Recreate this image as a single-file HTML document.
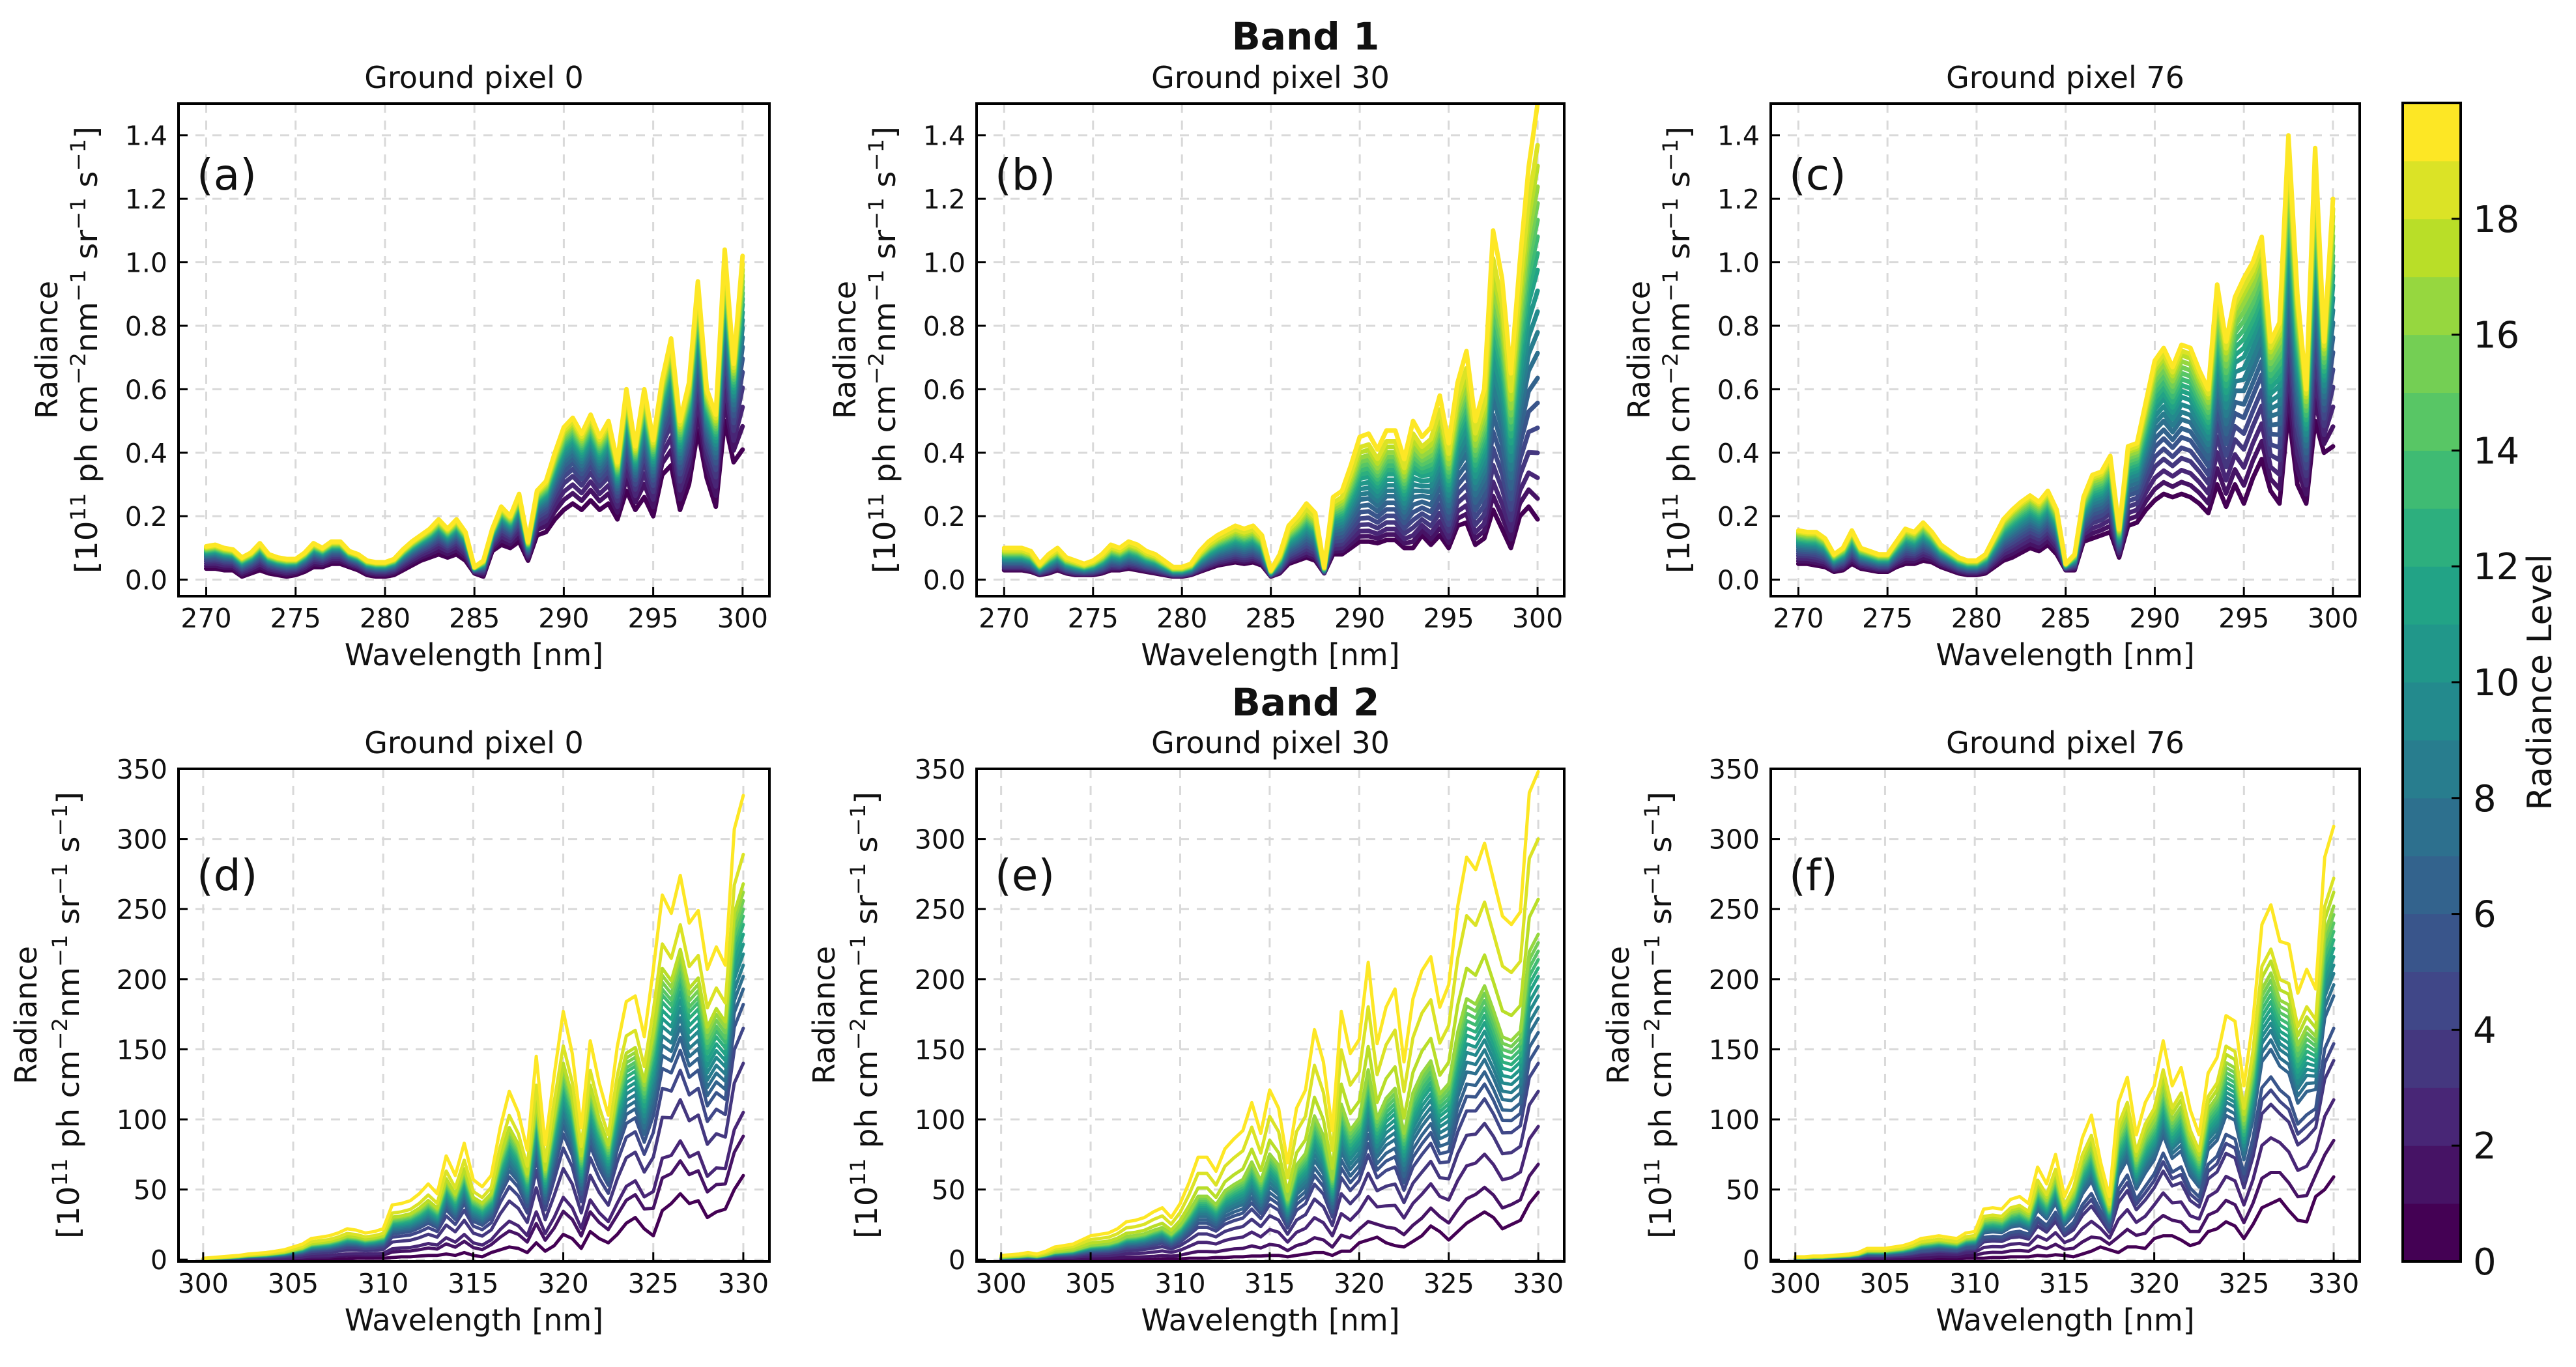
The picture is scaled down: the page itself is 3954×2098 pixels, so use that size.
<!DOCTYPE html>
<html><head><meta charset="utf-8"><style>
html,body{margin:0;padding:0;background:#fff;}
svg{display:block;}
text{font-family:"DejaVu Sans","Liberation Sans",sans-serif;fill:#111;}
</style></head><body>
<svg id="fig" xmlns="http://www.w3.org/2000/svg" width="3954" height="2098" viewBox="0 0 3954 2098">
<rect width="3954" height="2098" fill="#fff"/>
<text x="2004" y="76" font-size="58" font-weight="bold" text-anchor="middle">Band 1</text>
<text x="2004" y="1098" font-size="58" font-weight="bold" text-anchor="middle">Band 2</text>
</svg>
<script>
const wl1 = Array.from({length:61},(_,i)=>270+i*0.5);
const wl2 = Array.from({length:61},(_,i)=>300+i*0.5);
const xTicks1 = [270,275,280,285,290,295,300];
const xTicks2 = [300,305,310,315,320,325,330];
const yTicks1 = [0,0.2,0.4,0.6,0.8,1.0,1.2,1.4];
const yTickLabels1 = ["0.0","0.2","0.4","0.6","0.8","1.0","1.2","1.4"];
const yTicks2 = [0,50,100,150,200,250,300,350];
const cbTicks = [0,2,4,6,8,10,12,14,16,18];
const nLevels = 20;

// Panel (a) Band 1 ground pixel 0
const topA = [.105,.11,.10,.095,.07,.085,.115,.08,.07,.065, .065,.085,.115,.10,.12,.12,.09,.08,.06,.055, .055,.065,.095,.12,.14,.16,.19,.16,.19,.15, .04,.06,.16,.23,.20,.27,.12,.28,.31,.40, .48,.51,.46,.52,.45,.50,.37,.60,.42,.60, .44,.63,.76,.50,.62,.94,.60,.52,1.04,.68, 1.02];
const botA = [.035,.035,.03,.03,.01,.02,.03,.02,.015,.01, .015,.025,.04,.04,.05,.05,.04,.03,.015,.01, .01,.015,.03,.045,.06,.07,.08,.07,.08,.06, .02,.01,.09,.11,.10,.12,.06,.14,.15,.19, .22,.24,.22,.25,.22,.24,.19,.28,.22,.26, .20,.33,.36,.22,.30,.47,.32,.23,.50,.37, .41];
const wA = [0,.12,.22,.32,.4,.47,.53,.58,.63,.67,.71,.75,.78,.81,.84,.87,.9,.93,.96,1];
// Panel (b) Band 1 ground pixel 30
const topB = [.10,.10,.10,.09,.05,.08,.10,.07,.06,.05, .06,.08,.11,.10,.12,.11,.09,.08,.06,.04, .04,.05,.09,.12,.14,.155,.17,.16,.17,.14, .03,.08,.17,.20,.24,.21,.04,.26,.28,.36, .45,.46,.41,.47,.47,.38,.50,.45,.48,.58, .43,.62,.72,.50,.60,1.10,.95,.65,1.0,1.30, 1.5];
const botB = [.03,.03,.03,.025,.015,.02,.03,.02,.015,.015, .015,.02,.03,.03,.035,.03,.025,.02,.015,.01, .01,.015,.025,.035,.045,.05,.055,.05,.055,.045, .01,.02,.05,.06,.07,.06,.02,.08,.08,.10, .12,.12,.115,.125,.125,.10,.10,.14,.11,.14, .10,.17,.18,.11,.13,.22,.16,.10,.20,.23, .19];
const wB = [0,.05,.1,.16,.22,.28,.34,.4,.45,.5,.55,.6,.64,.68,.72,.76,.8,.85,.9,1];
// Panel (c) Band 1 ground pixel 76
const topC = [.155,.15,.15,.13,.08,.10,.155,.10,.09,.08, .08,.12,.16,.15,.18,.15,.11,.09,.07,.06, .06,.08,.135,.19,.22,.245,.265,.245,.28,.22, .05,.08,.26,.33,.34,.39,.16,.42,.43,.56, .69,.73,.67,.74,.73,.66,.60,.93,.75,.89, .95,1.0,1.08,.75,.81,1.40,.90,.60,1.36,.75, 1.2];
const botC = [.05,.05,.045,.04,.025,.03,.05,.035,.03,.025, .025,.04,.05,.05,.06,.055,.04,.03,.02,.015, .015,.02,.04,.06,.07,.085,.10,.09,.11,.08, .03,.03,.12,.13,.14,.15,.07,.17,.18,.22, .25,.27,.26,.27,.26,.24,.21,.30,.23,.30, .24,.32,.38,.28,.24,.53,.30,.24,.50,.40, .42];
const wC = [0,.08,.16,.24,.31,.38,.44,.5,.55,.6,.65,.69,.73,.77,.81,.85,.89,.93,.96,1];
// Panel (d) Band 2 ground pixel 0
const topD = [1,1.5,2,2.5,3,4,4.5,5,6,7, 9,11,15,16,17,19,22,21,19,20, 22,39,40,42,47,54,47,74,60,83, 57,52,60,94,120,105,78,145,82,132, 177,147,94,156,126,103,152,184,188,159, 207,260,247,274,240,249,207,223,210,307, 331];
const botD = [0,0,0,0,0,0,0,0,0,0, 0,0,0,0,0,0.5,0.5,1,1,1, 1,1.5,2,2,2.5,3,3,4,3,5, 3,2,5,7,9,8,5,12,6,10, 18,15,8,20,15,12,18,26,30,22, 17,35,40,47,40,42,30,34,36,50, 60];
const endD = [60,88,105,140,165,182,193,202,210,218,225,232,239,245,250,256,262,268,289,331];
// Panel (e) Band 2 ground pixel 30
const topE = [3,3.5,4,5,4,6,9,10,11,14, 17,18,19,22,27,28,30,34,37,30, 40,55,73,73,63,79,86,92,112,90, 121,108,69,108,121,164,141,92,177,147, 157,212,154,180,193,141,186,206,216,180, 196,252,287,278,297,271,245,239,248,333, 348];
const botE = [0,0,0,0,0,0,0,0,0,0, 0,0,0,0,0,0,0,0,0.5,0.5, 0.5,1,1,1,1.5,1.5,2,2,2.5,2.5, 3,3,2,3,4,5,5,3,6,6, 12,14,16,12,10,9,13,17,24,20, 14,20,26,30,34,30,22,25,28,40, 48];
const endE = [48,68,95,120,140,152,162,172,180,188,195,202,208,214,220,226,232,257,300,348];
// Panel (f) Band 2 ground pixel 76
const topF = [2,2,2.5,2.5,3,3.5,4,5,8,8, 8,9,10,12,15,16,17,16,15,19, 20,36,37,36,43,45,40,66,54,75, 45,60,87,103,70,45,112,130,89,112, 124,156,124,137,107,89,133,144,174,170, 124,170,239,253,227,225,190,207,193,287, 309];
const botF = [0,0,0,0,0,0,0,0,0,0, 0,0,0,0,0,0,0.5,0.5,0.5,1, 1,1,1.5,1.5,2,2,2,3,2.5,3.5, 3,2,4,6,9,7,5,9,9,8, 15,17,17,14,10,12,20,22,27,24, 15,25,37,40,43,35,28,27,45,50, 59];
const endF = [59,85,114,142,154,165,188,196,204,210,216,222,228,234,240,246,252,262,272,309];

const NS = "http://www.w3.org/2000/svg";
const svg = document.getElementById('fig');
const VIR = ["#440154","#482475","#414487","#355f8d","#2a788e","#21918c","#22a884","#44bf70","#7ad151","#bddf26","#fde725"];
function hex(h){return [1,3,5].map(i=>parseInt(h.substr(i,2),16));}
function vir(t){t=Math.max(0,Math.min(1,t));const s=t*10,i=Math.min(9,Math.floor(s)),f=s-i;const a=hex(VIR[i]),b=hex(VIR[i+1]);return 'rgb('+a.map((v,k)=>Math.round(v+(b[k]-v)*f)).join(',')+')';}
function el(tag,attrs,parent){const e=document.createElementNS(NS,tag);for(const k in attrs)e.setAttribute(k,attrs[k]);(parent||svg).appendChild(e);return e;}

function panel(cfg){
  const {id,L,R,T,B,xd,yd,wl,top,bot,w,xt,yt,ytl,lw,title,label,labelDy,ylOff} = cfg;
  const sx=v=>L+(v-xd[0])/(xd[1]-xd[0])*(R-L);
  const sy=v=>B-(v-yd[0])/(yd[1]-yd[0])*(B-T);
  const g=el('g',{});
  
  
  const cp=el('clipPath',{id:'clip-'+id},g);
  el('rect',{x:L,y:T,width:R-L,height:B-T},cp);
  xt.forEach(v=>{const x=sx(v);const ln=el('line',{x1:x,x2:x,y1:T,y2:B,stroke:'#d9d9d9','stroke-width':3,'stroke-dasharray':'14,12'},g);
    
    });
  yt.forEach(v=>{const y=sy(v);const ln=el('line',{x1:L,x2:R,y1:y,y2:y,stroke:'#d9d9d9','stroke-width':3,'stroke-dasharray':'14,12'},g);
    
    });
  const sg=el('g',{'clip-path':'url(#clip-'+id+')'},g);
  for(let i=0;i<nLevels;i++){
    const pts=wl.map((x,j)=>sx(x).toFixed(1)+','+sy(bot[j]+w[i]*(top[j]-bot[j])).toFixed(1)).join(' ');
    const pl=el('polyline',{points:pts,fill:'none',stroke:vir(i/(nLevels-1)),'stroke-width':lw,'stroke-linejoin':'round','stroke-linecap':'round'},sg);
    
    
  }
  const fr=el('rect',{x:L,y:T,width:R-L,height:B-T,fill:'none',stroke:'#000','stroke-width':4},g);
  
  
  xt.forEach(v=>{const x=sx(v);el('line',{x1:x,x2:x,y1:B,y2:B-14,stroke:'#000','stroke-width':3},g);
    const t=el('text',{x:x,y:B+48,'font-size':41,'text-anchor':'middle'},g);t.textContent=v;
    
    });
  yt.forEach((v,k)=>{const y=sy(v);el('line',{x1:L,x2:L+14,y1:y,y2:y,stroke:'#000','stroke-width':3},g);
    const t=el('text',{x:L-17,y:y+15,'font-size':41,'text-anchor':'end'},g);t.textContent=ytl?ytl[k]:v;
    
    });
  const tt=el('text',{x:(L+R)/2,y:T-24,'font-size':46,'text-anchor':'middle'},g);tt.textContent=title;
  
  
  const lb=el('text',{x:L+28,y:T+labelDy,'font-size':66,'font-family':'Liberation Sans, sans-serif'},g);lb.textContent=label;
  
  
  const xl=el('text',{x:(L+R)/2,y:B+106,'font-size':46,'text-anchor':'middle'},g);xl.textContent='Wavelength [nm]';
  
  
  const cy=(T+B)/2;
  const y1=el('text',{x:0,y:0,'font-size':46,'text-anchor':'middle',transform:'translate('+(L-ylOff[0])+','+cy+') rotate(-90)'},g);y1.textContent='Radiance';
  
  
  const y2=el('text',{x:0,y:0,'font-size':46,'text-anchor':'middle',textLength:686,lengthAdjust:'spacingAndGlyphs',transform:'translate('+(L-ylOff[1])+','+cy+') rotate(-90)'},g);
  
  
  y2.innerHTML='[10<tspan dy="-18" font-size="32">11</tspan><tspan dy="18"> ph cm</tspan><tspan dy="-18" font-size="32">−2</tspan><tspan dy="18">nm</tspan><tspan dy="-18" font-size="32">−1</tspan><tspan dy="18"> sr</tspan><tspan dy="-18" font-size="32">−1</tspan><tspan dy="18"> s</tspan><tspan dy="-18" font-size="32">−1</tspan><tspan dy="18">]</tspan>';
}
function wFromEnd(e){const a=e[0],b=e[e.length-1];return e.map(v=>(v-a)/(b-a));}

const X1=[268.45,301.5], Y1=[-0.052,1.5], X2=[298.63,331.45], Y2=[-1.3,350];
const cols=[[274,1181],[1499,2401],[2718,3622]];
const rowT=[159,915], rowB=[1180,1936];
panel({id:'a',L:cols[0][0],R:cols[0][1],T:rowT[0],B:rowT[1],xd:X1,yd:Y1,wl:wl1,top:topA,bot:botA,w:wA,xt:xTicks1,yt:yTicks1,ytl:yTickLabels1,lw:7,title:'Ground pixel 0',label:'(a)',labelDy:132,ylOff:[186,125]});
panel({id:'b',L:cols[1][0],R:cols[1][1],T:rowT[0],B:rowT[1],xd:X1,yd:Y1,wl:wl1,top:topB,bot:botB,w:wB,xt:xTicks1,yt:yTicks1,ytl:yTickLabels1,lw:7,title:'Ground pixel 30',label:'(b)',labelDy:132,ylOff:[186,125]});
panel({id:'c',L:cols[2][0],R:cols[2][1],T:rowT[0],B:rowT[1],xd:X1,yd:Y1,wl:wl1,top:topC,bot:botC,w:wC,xt:xTicks1,yt:yTicks1,ytl:yTickLabels1,lw:7,title:'Ground pixel 76',label:'(c)',labelDy:132,ylOff:[186,125]});
panel({id:'d',L:cols[0][0],R:cols[0][1],T:rowB[0],B:rowB[1],xd:X2,yd:Y2,wl:wl2,top:topD,bot:botD,w:wFromEnd(endD),xt:xTicks2,yt:yTicks2,lw:5,title:'Ground pixel 0',label:'(d)',labelDy:186,ylOff:[218,153]});
panel({id:'e',L:cols[1][0],R:cols[1][1],T:rowB[0],B:rowB[1],xd:X2,yd:Y2,wl:wl2,top:topE,bot:botE,w:wFromEnd(endE),xt:xTicks2,yt:yTicks2,lw:5,title:'Ground pixel 30',label:'(e)',labelDy:186,ylOff:[218,153]});
panel({id:'f',L:cols[2][0],R:cols[2][1],T:rowB[0],B:rowB[1],xd:X2,yd:Y2,wl:wl2,top:topF,bot:botF,w:wFromEnd(endF),xt:xTicks2,yt:yTicks2,lw:5,title:'Ground pixel 76',label:'(f)',labelDy:186,ylOff:[218,153]});

(function(){
  const L=3688,R=3777,T=158,B=1936;
  const cg=el('g',{});
  
  
  const sy=v=>B-v/nLevels*(B-T);
  for(let k=0;k<nLevels;k++){
    const r=el('rect',{x:L,y:sy(k+1),width:R-L,height:sy(k)-sy(k+1)+0.5,fill:vir(k/(nLevels-1))},cg);
    
    
  }
  el('rect',{x:L,y:T,width:R-L,height:B-T,fill:'none',stroke:'#000','stroke-width':4},cg);
  cbTicks.forEach(v=>{const y=sy(v);
    el('line',{x1:R-14,x2:R,y1:y,y2:y,stroke:'#000','stroke-width':3},cg);
    const t=el('text',{x:3796,y:y+20,'font-size':56,'font-family':'Liberation Sans, sans-serif'},cg);t.textContent=v;
    
    });
  const lab=el('text',{x:0,y:0,'font-size':52,'text-anchor':'middle',transform:'translate(3916,1047) rotate(-90)'},cg);
  lab.textContent='Radiance Level';
  
  
})();
</script>
</body></html>
